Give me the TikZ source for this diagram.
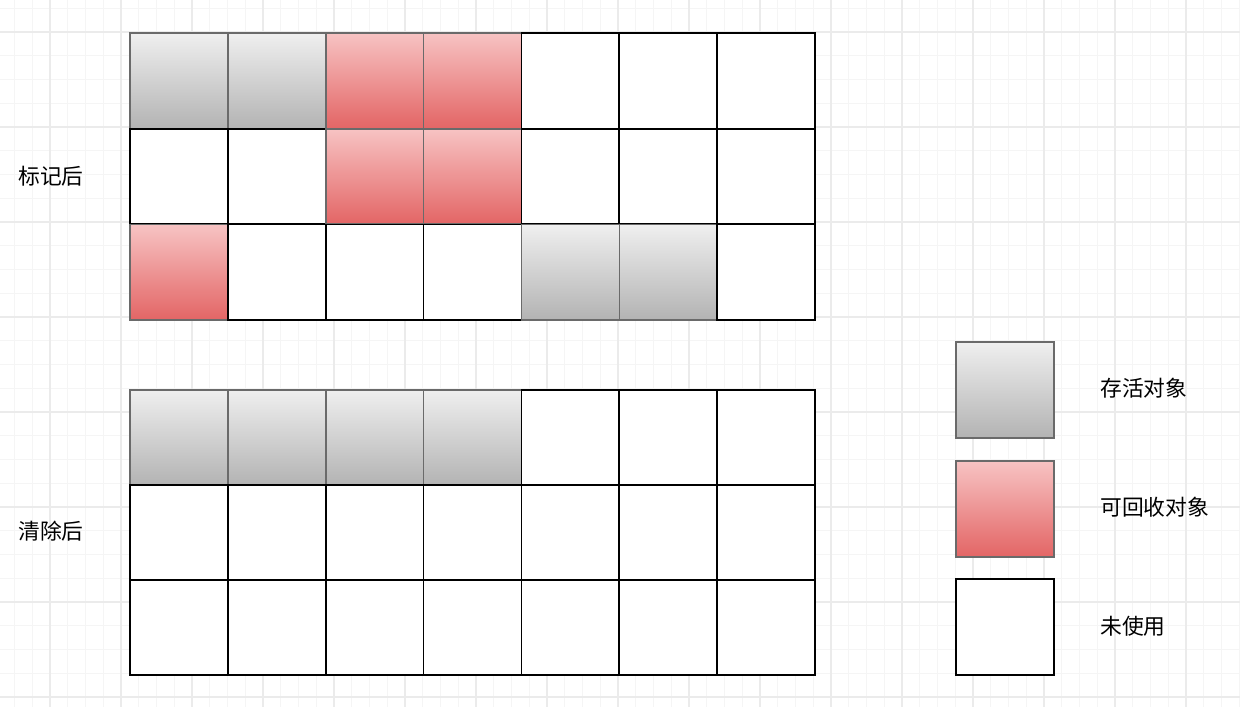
\documentclass[tikz,border=0pt]{standalone}
\usepackage{fontspec}
\setmainfont{Noto Sans CJK SC}
\definecolor{livetop}{HTML}{EFEFEF}
\definecolor{livebot}{HTML}{B3B3B3}
\definecolor{deadtop}{HTML}{F7C3C3}
\definecolor{deadbot}{HTML}{E36565}
\definecolor{edgegray}{HTML}{6A6A6A}
\begin{document}
\begin{tikzpicture}[x=0.02cm, y=-0.02cm,
                    cell/.style={rectangle,minimum width=1.957cm,minimum height=1.91cm,inner sep=0pt},
                    wcell/.style={cell,draw=black,line width=1pt,fill=white},
                    lcell/.style={cell,draw=edgegray,line width=0.9pt,top color=livetop,bottom color=livebot},
                    dcell/.style={cell,draw=edgegray,line width=0.9pt,top color=deadtop,bottom color=deadbot},
                    label/.style={anchor=west,inner sep=0pt,font=\fontsize{12.4}{15}\selectfont}]

  % paper with faint grid
  \fill[white] (0,0) rectangle (1240,707);
  \useasboundingbox (0,0) rectangle (1240,707);
  \foreach \i in {0,...,70}
    \draw[black!4,line width=0.4pt] (14.25+17.75*\i,0) -- ++(0,707);
  \foreach \i in {0,...,30}
    \draw[black!4,line width=0.4pt] (0,8.25+23.75*\i) -- ++(1240,0);
  \foreach \i in {0,...,17}
    \draw[black!8,line width=0.6pt] (50+71*\i,0) -- ++(0,707);
  \foreach \i in {0,...,7}
    \draw[black!8,line width=0.6pt] (0,32+95*\i) -- ++(1240,0);

  % after marking
  \foreach \row [count=\r] in {{l,l,d,d,w,w,w},{w,w,d,d,w,w,w},{d,w,w,w,l,l,w}}
    \foreach \kind [count=\c] in \row
      \node[\kind cell] (mark\r\c) at (81.07+97.86*\c,-14.83+95.67*\r) {};

  % after sweeping
  \foreach \row [count=\r] in {{l,l,l,l,w,w,w},{w,w,w,w,w,w,w},{w,w,w,w,w,w,w}}
    \foreach \kind [count=\c] in \row
      \node[\kind cell] (sweep\r\c) at (81.07+97.86*\c,342.5+95*\r) {};

  \node[label] (marktext) at (18,176) {标记后};
  \node[label] (sweeptext) at (18,531) {清除后};

  % legend
  \node[lcell] (keylive) at (1005,390) {};
  \node[dcell] (keydead) at (1005,509) {};
  \node[wcell] (keyfree) at (1005,627) {};
  \node[label] (livetext) at (1100,388) {存活对象};
  \node[label] (deadtext) at (1100,507) {可回收对象};
  \node[label] (freetext) at (1100,626) {未使用};
\end{tikzpicture}
\end{document}
